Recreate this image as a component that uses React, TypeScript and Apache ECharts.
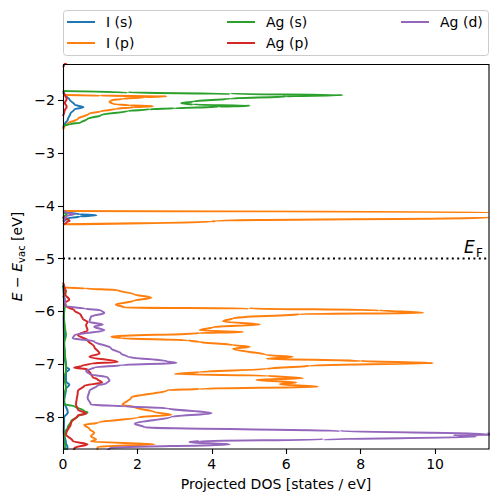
import React, { useEffect, useRef } from 'react';
import * as echarts from 'echarts';

const FONT = "'DejaVu Sans', sans-serif";

const seriesNames = ['I (s)', 'I (p)', 'Ag (s)', 'Ag (p)', 'Ag (d)'];
const seriesColors = ['#1f77b4', '#ff7f0e', '#2ca02c', '#d62728', '#9467bd'];

const xTicks = [0, 2, 4, 6, 8, 10];
const yTicks = [-8, -7, -6, -5, -4, -3, -2];
const fermiLevel = -5;
const xMin = 0;
const xMax = 11.45;
const yMin = -8.61;
const yMax = -1.31;

// Each band: list of [DOS, E] pairs
const iS_bands: number[][][] = [
  [[0, -1.82], [0.03, -1.87], [0.1, -1.93], [0.17, -1.98], [0.31, -2.08], [0.55, -2.13], [0.31, -2.17], [0.2, -2.25], [0.13, -2.36], [0.05, -2.45], [0, -2.52]],
  [[0, -4.08], [0.08, -4.12], [0.45, -4.16], [0.9, -4.18], [0.45, -4.2], [0.1, -4.24], [0, -4.3]],
  [[0, -5.5], [0.02, -5.6], [0.04, -5.8], [0.02, -6.2], [0.03, -6.6], [0.05, -6.9], [0.08, -7.05], [0.17, -7.1], [0.08, -7.16], [0.08, -7.33], [0.17, -7.39], [0.08, -7.47], [0.03, -7.7], [0.13, -7.92], [0.03, -8.01], [0.02, -8.3], [0.08, -8.5], [0.12, -8.57], [0.05, -8.7]],
];

const iP_bands: number[][][] = [
  [[0, -1.9], [1.0, -1.91], [2.78, -1.92], [2.2, -1.94], [1.6, -1.97], [1.3, -2.0], [1.25, -2.03], [1.35, -2.07], [1.8, -2.095], [2.42, -2.11], [1.9, -2.13], [1.43, -2.16], [1.0, -2.21], [0.7, -2.25], [0.4, -2.35], [0.13, -2.44], [0.03, -2.5], [0, -2.55]],
  [[0, -4.095], [11.45, -4.118], [24, -4.14], [18, -4.18], [11.45, -4.225], [4.1, -4.28], [4.0, -4.3], [0, -4.35]],
  [[0, -5.5], [0.04, -5.55], [0.6, -5.565], [1.47, -5.6], [1.92, -5.68], [2.37, -5.74], [1.9, -5.8], [1.42, -5.87], [1.65, -5.93], [5.0, -5.945], [8.5, -5.98], [9.68, -6.03], [6.36, -6.05], [4.57, -6.13], [4.3, -6.19], [5.29, -6.25], [4.03, -6.3], [3.67, -6.36], [4.84, -6.39], [3.67, -6.41], [1.3, -6.48], [1.57, -6.51], [3.36, -6.55], [3.67, -6.58], [4.57, -6.64], [5.02, -6.67], [4.57, -6.71], [5.47, -6.83], [6.18, -6.86], [5.47, -6.9], [8.0, -6.94], [9.95, -6.98], [6.63, -7.03], [5.47, -7.09], [3.67, -7.15], [3.0, -7.19], [5.5, -7.22], [6.45, -7.27], [5.2, -7.3], [6.27, -7.35], [5.83, -7.38], [6.86, -7.43], [3.67, -7.47], [2.81, -7.49], [1.83, -7.64], [1.6, -7.77], [1.93, -7.82], [2.46, -7.91], [2.91, -7.96], [2.02, -8.01], [0.94, -8.11], [0.57, -8.15], [0.71, -8.23], [0.84, -8.3], [0.75, -8.37], [0.89, -8.43], [0.75, -8.47], [2.46, -8.52], [0.93, -8.57], [0.9, -8.7]],
];

const agS_bands: number[][][] = [
  [[0, -1.82], [1.74, -1.85], [4.5, -1.875], [7.52, -1.9], [6.0, -1.925], [4.5, -1.965], [3.5, -2.02], [3.18, -2.055], [3.5, -2.08], [5.02, -2.1], [4.2, -2.12], [3.0, -2.15], [2.33, -2.17], [1.74, -2.2], [1.02, -2.28], [0.66, -2.35], [0.48, -2.42], [0.2, -2.45], [0.04, -2.47], [0, -2.5]],
  [[0, -4.12], [0.1, -4.16], [0.02, -4.2], [0, -4.25]],
  [[0, -5.5], [0.02, -5.6], [0.04, -5.9], [0.02, -6.1], [0.05, -6.3], [0.08, -6.45], [0.03, -6.6], [0.05, -6.8], [0.08, -7.0], [0.08, -7.13], [0.03, -7.26], [0.08, -7.44], [0.03, -7.6], [0.03, -7.76], [0.31, -7.8], [0.57, -7.89], [0.66, -7.92], [0.4, -7.99], [0.22, -8.08], [0.13, -8.2], [0.05, -8.3], [0.03, -8.45], [0.06, -8.55], [0.02, -8.7]],
];

const agP_bands: number[][][] = [
  [[0.1, -1.28], [0.03, -1.33], [0, -1.37]],
  [[0, -1.85], [0.05, -1.9], [0.1, -1.97], [0.05, -2.05], [0.1, -2.12], [0.04, -2.2], [0, -2.3]],
  [[0, -4.2], [0.05, -4.23], [0.18, -4.28], [0.1, -4.31], [0, -4.35]],
  [[0, -5.45], [0.04, -5.55], [0.08, -5.62], [0.06, -5.68], [0.17, -5.78], [0.04, -5.84], [0.08, -5.9], [0.3, -5.98], [0.48, -6.07], [0.53, -6.14], [0.66, -6.2], [0.62, -6.26], [0.66, -6.36], [0.4, -6.45], [0.66, -6.55], [0.84, -6.67], [0.98, -6.8], [0.71, -6.86], [1.47, -6.96], [0.75, -6.99], [0.48, -7.04], [0.3, -7.07], [0.66, -7.1], [0.75, -7.19], [0.8, -7.25], [0.93, -7.29], [1.05, -7.35], [0.57, -7.41], [0.4, -7.51], [0.35, -7.77], [0.4, -7.86], [0.62, -7.94], [0.4, -7.97], [0.22, -8.11], [0.08, -8.33], [0.26, -8.46], [0.66, -8.52], [0.31, -8.59], [0.2, -8.7]],
];

const agD_bands: number[][][] = [
  [[0, -4.1], [0.1, -4.13], [0.32, -4.155], [0.1, -4.19], [0.05, -4.24], [0, -4.3]],
  [[0, -5.7], [0.05, -5.8], [0.08, -5.9], [0.6, -5.95], [1.02, -5.98], [1.11, -6.03], [0.75, -6.1], [0.71, -6.2], [1.07, -6.25], [0.84, -6.29], [1.11, -6.36], [0.31, -6.45], [0.26, -6.51], [0.84, -6.57], [1.29, -6.7], [1.56, -6.8], [1.74, -6.86], [2.81, -6.95], [3.05, -6.98], [1.57, -7.02], [0.85, -7.06], [0.62, -7.13], [0.71, -7.19], [1.2, -7.25], [1.25, -7.31], [1.16, -7.37], [0.93, -7.4], [0.71, -7.51], [0.66, -7.64], [0.75, -7.77], [1.65, -7.8], [2.81, -7.84], [3.99, -7.93], [2.91, -8.0], [1.93, -8.13], [2.2, -8.2], [7.44, -8.27], [11.38, -8.32], [12.5, -8.335], [10.5, -8.345], [11.1, -8.38], [7.0, -8.43], [3.67, -8.46], [3.4, -8.48], [4.48, -8.52], [1.26, -8.59], [1.0, -8.7]],
];

const allBands = [iS_bands, iP_bands, agS_bands, agP_bands, agD_bands];

function joinBands(bands: number[][][]): any[] {
  const out: any[] = [];
  bands.forEach((b, i) => {
    if (i > 0) out.push(['-', '-']);
    b.forEach((p) => out.push(p));
  });
  return out;
}

const minusFmt = (v: number) => (v < 0 ? '\u2212' + Math.abs(v) : String(v));

export default function App() {
  const ref = useRef<HTMLDivElement>(null);
  useEffect(() => {
    if (!ref.current) return;
    const chart = echarts.init(ref.current, undefined, { renderer: 'svg' });
    const legendCommon = {
      orient: 'vertical',
      top: 14,
      padding: 0,
      icon: 'rect',
      itemWidth: 28,
      itemHeight: 2,
      itemGap: 5,
      selectedMode: false,
      textStyle: { fontSize: 14, fontFamily: FONT, color: '#000', lineHeight: 16, padding: [0, 0, 0, 6] },
    };
    const series: any[] = seriesNames.map((name, i) => ({
      type: 'line',
      name,
      data: joinBands(allBands[i]),
      showSymbol: false,
      symbol: 'none',
      connectNulls: false,
      clip: true,
      smooth: 0.35,
      smoothMonotone: 'y',
      lineStyle: { width: 2, color: seriesColors[i] },
      itemStyle: { color: seriesColors[i] },
      z: 2,
    }));
    series.push({
      type: 'line',
      name: 'Fermi',
      data: [[xMin, fermiLevel], [xMax, fermiLevel]],
      showSymbol: false,
      symbol: 'none',
      lineStyle: { width: 2, color: '#000', type: [2, 3.4] },
      itemStyle: { color: '#000' },
      z: 3,
    });
    chart.setOption({
      animation: false,
      backgroundColor: '#fff',
      grid: { left: 63, right: 9, top: 64, bottom: 53 },
      legend: [
        { ...legendCommon, left: 67, data: [seriesNames[0], seriesNames[1]] },
        { ...legendCommon, left: 227, data: [seriesNames[2], seriesNames[3]] },
        { ...legendCommon, left: 401, data: [seriesNames[4]] },
      ],
      xAxis: {
        type: 'value',
        min: xMin,
        max: xMax,
        axisLine: { show: false },
        axisTick: { show: true, customValues: xTicks, length: 5, lineStyle: { color: '#000', width: 1.1 } },
        axisLabel: { customValues: xTicks, color: '#000', fontSize: 14, fontFamily: FONT, margin: 8 },
        splitLine: { show: false },
        name: 'Projected DOS [states / eV]',
        nameLocation: 'middle',
        nameGap: 28,
        nameTextStyle: { color: '#000', fontSize: 14, fontFamily: FONT },
      },
      yAxis: {
        type: 'value',
        min: yMin,
        max: yMax,
        axisLine: { show: false },
        axisTick: { show: true, customValues: yTicks, length: 5, lineStyle: { color: '#000', width: 1.1 } },
        axisLabel: { customValues: yTicks, color: '#000', fontSize: 14, fontFamily: FONT, margin: 8, formatter: minusFmt },
        splitLine: { show: false },
        name: '{i|E}{n| \u2212 }{i|E}{s|vac}{n| [eV]}',
        nameLocation: 'middle',
        nameRotate: 90,
        nameGap: 37,
        nameMoveOverlap: false,
        nameTextStyle: {
          color: '#000',
          fontSize: 14,
          fontFamily: FONT,
          rich: {
            i: { fontStyle: 'italic', fontSize: 14, fontFamily: FONT, color: '#000', lineHeight: 18 },
            n: { fontSize: 14, fontFamily: FONT, color: '#000', lineHeight: 18 },
            s: { fontSize: 10, fontFamily: FONT, color: '#000', lineHeight: 9, verticalAlign: 'bottom' },
          },
        },
      },
      graphic: [
        {
          type: 'rect',
          z: 0,
          shape: { x: 63.5, y: 10.5, width: 425, height: 45, r: 3 },
          style: { fill: '#fff', stroke: '#cccccc', lineWidth: 1 },
        },
        {
          type: 'rect',
          z: 100,
          shape: { x: 63.5, y: 64.5, width: 425.5, height: 384.5 },
          style: { fill: 'none', stroke: '#000', lineWidth: 1.1 },
        },
        {
          type: 'text',
          z: 100,
          x: 464,
          y: 246.5,
          style: { text: 'E', fontSize: 17, fontStyle: 'italic', fontFamily: FONT, fill: '#000', align: 'left', verticalAlign: 'middle', textAlign: 'left', textVerticalAlign: 'middle' },
        },
        {
          type: 'text',
          z: 100,
          x: 476,
          y: 252.5,
          style: { text: 'F', fontSize: 12, fontFamily: FONT, fill: '#000', align: 'left', verticalAlign: 'middle', textAlign: 'left', textVerticalAlign: 'middle' },
        },
      ],
      series,
    });
    return () => chart.dispose();
  }, []);
  return <div ref={ref} style={{ position: 'fixed', left: 0, top: 0, width: 498, height: 502 }} />;
}
